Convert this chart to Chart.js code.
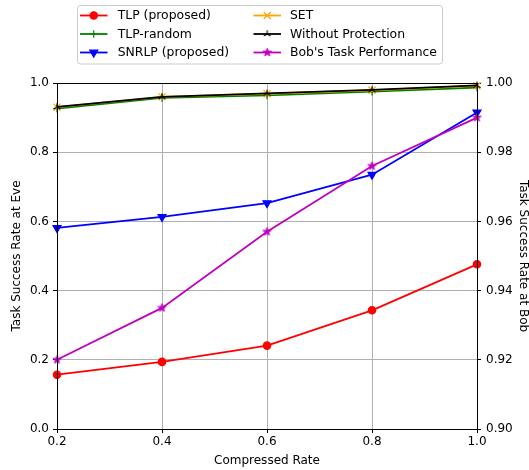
<!DOCTYPE html>
<html>
<head>
<meta charset="utf-8">
<script src="https://cdn.jsdelivr.net/npm/chart.js"></script>
<style>
  body { margin: 0; background: #fff; }
  #wrap { width: 529px; height: 470px; }
</style>
</head>
<body>
<div id="wrap"><canvas id="rateChart" width="529" height="470"></canvas></div>
<script>
// values
const compressedRate = [0.2, 0.4, 0.6, 0.8, 1.0];
const tlpProposed   = [0.157, 0.194, 0.241, 0.343, 0.476];
const tlpRandom     = [0.926, 0.957, 0.964, 0.975, 0.987];
const snrlpProposed = [0.581, 0.613, 0.653, 0.735, 0.915];
const setValues     = [0.930, 0.960, 0.969, 0.979, 0.992];
const noProtection  = [0.931, 0.960, 0.970, 0.980, 0.993];
const bobTask       = [0.920, 0.935, 0.957, 0.976, 0.990];   // right axis
const leftTicks  = [0, 0.2, 0.4, 0.6, 0.8, 1.0];
const rightTicks = [0.90, 0.92, 0.94, 0.96, 0.98, 1.00];

const FONT = '"DejaVu Sans", sans-serif';
const MAGENTA = '#bf00bf';

// filled five point star, like matplotlib '*'
function starMarker(color, r) {
    const c = document.createElement('canvas');
    c.width = c.height = Math.ceil(r * 2 + 4);
    const g = c.getContext('2d');
    const cx = c.width / 2, cy = c.height / 2;
    g.beginPath();
    for (let i = 0; i < 10; i++) {
        const rad = (i % 2 === 0) ? r : r * 0.38;
        const a = -Math.PI / 2 + i * Math.PI / 5;
        g.lineTo(cx + rad * Math.cos(a), cy + rad * Math.sin(a));
    }
    g.closePath();
    g.fillStyle = color;
    g.fill();
    g.strokeStyle = color;
    g.lineWidth = 1;
    g.stroke();
    return c;
}

// tri_up, like matplotlib '2'
function triUpMarker(color, r) {
    const c = document.createElement('canvas');
    c.width = c.height = Math.ceil(r * 2 + 4);
    const g = c.getContext('2d');
    const cx = c.width / 2, cy = c.height / 2;
    g.strokeStyle = color;
    g.lineWidth = 1.1;
    g.beginPath();
    g.moveTo(cx, cy); g.lineTo(cx, cy - r);
    g.moveTo(cx, cy); g.lineTo(cx - r * 0.866, cy + r * 0.5);
    g.moveTo(cx, cy); g.lineTo(cx + r * 0.866, cy + r * 0.5);
    g.stroke();
    return c;
}

const starImg = starMarker(MAGENTA, 4.4);
const triImg = triUpMarker('#000000', 3.8);

function pts(ys) {
    return compressedRate.map((x, i) => ({ x: x, y: ys[i] }));
}

const series = [
    { label: 'TLP (proposed)', data: tlpProposed, color: '#ff0000', style: 'circle', radius: 3.7, rot: 0, axis: 'y', order: 5 },
    { label: 'TLP-random', data: tlpRandom, color: '#008000', style: 'cross', radius: 3.8, rot: 0, axis: 'y', order: 4 },
    { label: 'SNRLP (proposed)', data: snrlpProposed, color: '#0000ff', style: 'triangle', radius: 4.6, rot: 180, axis: 'y', order: 3 },
    { label: 'SET', data: setValues, color: '#ffa500', style: 'crossRot', radius: 5.0, rot: 0, axis: 'y', order: 2 },
    { label: 'Without Protection', data: noProtection, color: '#000000', style: triImg, radius: 4, rot: 0, axis: 'y', order: 1 },
    { label: "Bob's Task Performance", data: bobTask, color: MAGENTA, style: starImg, radius: 4, rot: 0, axis: 'y2', order: 0 }
];

// two column legend box drawn at the top, matplotlib style
const legendBox = {
    id: 'legendBox',
    afterDraw(chart) {
        const ctx = chart.ctx;
        ctx.save();
        const bx = 77.5, by = 5.5, bw = 365, bh = 58.5, br = 3;
        ctx.beginPath();
        ctx.moveTo(bx + br, by);
        ctx.arcTo(bx + bw, by, bx + bw, by + bh, br);
        ctx.arcTo(bx + bw, by + bh, bx, by + bh, br);
        ctx.arcTo(bx, by + bh, bx, by, br);
        ctx.arcTo(bx, by, bx + bw, by, br);
        ctx.closePath();
        ctx.fillStyle = 'rgba(255,255,255,0.8)';
        ctx.fill();
        ctx.strokeStyle = '#cccccc';
        ctx.lineWidth = 1;
        ctx.stroke();

        const colX = [80, 253.5];
        const textX = [117.7, 290];
        const rowY = [15.5, 34, 52.5];
        ctx.font = '12.4px ' + FONT;
        ctx.textBaseline = 'middle';
        series.forEach((s, i) => {
            const col = Math.floor(i / 3), row = i % 3;
            const x0 = colX[col], y = rowY[row];
            ctx.strokeStyle = s.color;
            ctx.lineWidth = 1.8;
            ctx.beginPath();
            ctx.moveTo(x0, y);
            ctx.lineTo(x0 + 27.5, y);
            ctx.stroke();
            ctx.fillStyle = s.color;
            ctx.strokeStyle = s.color;
            ctx.lineWidth = 1.2;
            Chart.helpers.drawPoint(ctx, { pointStyle: s.style, radius: s.radius, rotation: s.rot, borderWidth: 1.2 }, x0 + 13.75, y);
            ctx.fillStyle = '#000';
            ctx.fillText(s.label, textX[col], y + 0.5);
        });
        ctx.restore();
    }
};

// black frame round the plot area, drawn over the lines
const frame = {
    id: 'frame',
    afterDatasetsDraw(chart) {
        const a = chart.chartArea, ctx = chart.ctx;
        ctx.save();
        ctx.strokeStyle = '#000';
        ctx.lineWidth = 1;
        ctx.strokeRect(Math.round(a.left) + 0.5, Math.round(a.top) + 0.5,
            Math.round(a.right) - Math.round(a.left), Math.round(a.bottom) - Math.round(a.top));
        ctx.restore();
    }
};

new Chart(document.getElementById('rateChart').getContext('2d'), {
    type: 'line',
    data: {
        datasets: series.map(s => ({
            label: s.label,
            data: pts(s.data),
            yAxisID: s.axis,
            order: s.order,
            borderColor: s.color,
            backgroundColor: s.color,
            borderWidth: 1.8,
            pointStyle: s.style,
            pointRadius: s.radius,
            pointRotation: s.rot,
            pointBorderWidth: 1.2,
            pointBackgroundColor: s.color,
            pointBorderColor: s.color,
            tension: 0,
            clip: false
        }))
    },
    options: {
        responsive: false,
        animation: false,
        layout: { padding: { top: 83, left: 0, right: 0, bottom: 0 } },
        plugins: {
            legend: { display: false },
            tooltip: { enabled: false }
        },
        scales: {
            x: {
                type: 'linear',
                min: 0.2,
                max: 1.0,
                afterBuildTicks: sc => { sc.ticks = compressedRate.map(v => ({ value: v })); },
                afterFit: sc => { sc.height = 41; },
                ticks: { callback: v => v.toFixed(1), color: '#000', font: { family: FONT, size: 12 }, padding: 2, maxRotation: 0 },
                grid: { color: '#b0b0b0', lineWidth: 1, tickColor: '#000', tickLength: 4 },
                border: { color: '#000', width: 1 },
                title: { display: true, text: 'Compressed Rate', color: '#000', font: { family: FONT, size: 12 }, padding: { top: 0, bottom: 2 } }
            },
            y: {
                position: 'left',
                min: 0,
                max: 1.0,
                afterBuildTicks: sc => { sc.ticks = leftTicks.map(v => ({ value: v })); },
                afterFit: sc => { sc.width = 57; },
                ticks: { callback: v => v.toFixed(1), color: '#000', font: { family: FONT, size: 12 }, padding: 4 },
                grid: { color: '#b0b0b0', lineWidth: 1, tickColor: '#000', tickLength: 4 },
                border: { color: '#000', width: 1 },
                title: { display: true, text: 'Task Success Rate at Eve', color: '#000', font: { family: FONT, size: 12 }, padding: { top: 10, bottom: 0 } }
            },
            y2: {
                position: 'right',
                min: 0.9,
                max: 1.0,
                afterBuildTicks: sc => { sc.ticks = rightTicks.map(v => ({ value: v })); },
                afterFit: sc => { sc.width = 52; },
                ticks: { callback: v => v.toFixed(2), color: '#000', font: { family: FONT, size: 12 }, padding: 5 },
                grid: { drawOnChartArea: false, tickColor: '#000', tickLength: 4 },
                border: { color: '#000', width: 1 },
                title: { display: true, text: 'Task Success Rate at Bob', color: '#000', font: { family: FONT, size: 12 }, padding: { top: -1, bottom: 0 } }
            }
        }
    },
    plugins: [frame, legendBox]
});
</script>
</body>
</html>
